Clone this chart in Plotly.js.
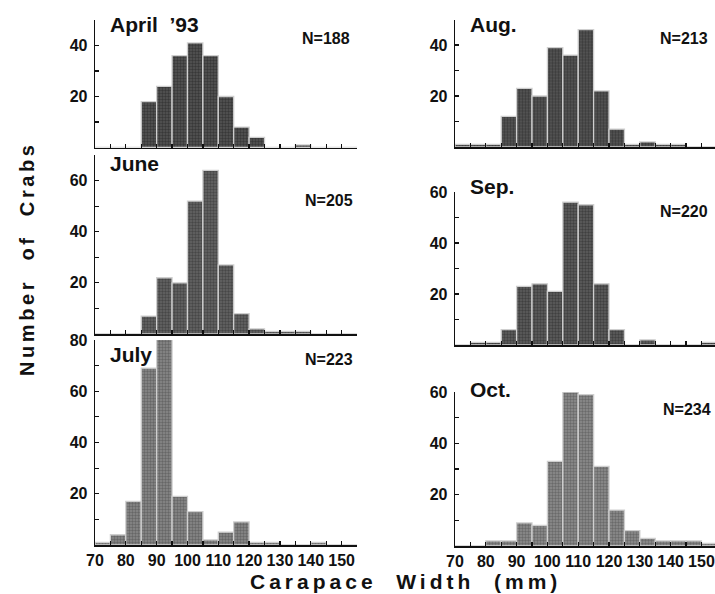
<!DOCTYPE html>
<html>
<head>
<meta charset="utf-8">
<script src="https://cdn.plot.ly/plotly-3.0.1.min.js"></script>
<style>html,body{margin:0;padding:0;background:#fff;overflow:hidden}</style>
</head>
<body>
<div id="chart" style="width:715px;height:594px"></div>
<script>
// Bin left edges (mm), 5 mm bins
const binStarts = [70,75,80,85,90,95,100,105,110,115,120,125,130,135,140,145,150];

// Counts per month
const april = [0,0,0,18,24,36,41,36,20,8,4,0,0,1,0,0,0];
const june  = [0,0,0,7,22,20,52,64,27,8,2,1,1,1,0,0,0];
const july  = [1,4,17,69,81,19,13,2,5,9,1,1,0,0,1,0,0];
const aug   = [1,1,1,12,23,20,39,36,46,22,7,1,2,1,1,0,0];
const sep   = [0,1,1,6,23,24,21,56,55,24,6,0,2,0,0,0,1];
const oct   = [0,0,2,2,9,8,33,60,59,31,14,6,3,2,2,2,1];

const panelTitles = ["April  \u201993", "June", "July", "Aug.", "Sep.", "Oct."];
const sampleSizes = ["N=188", "N=205", "N=223", "N=213", "N=220", "N=234"];
const xTickVals = [70,75,80,85,90,95,100,105,110,115,120,125,130,135,140,145,150,155];
const xTickText = ["70","","80","","90","","100","","110","","120","","130","","140","","150",""];

const series = [april, june, july, aug, sep, oct];
const fills = ["#555555", "#666666", "#8a8a8a", "#585858", "#5e5e5e", "#8e8e8e"];
const darks = ["#383838", "#474747", "#666666", "#3a3a3a", "#404040", "#6a6a6a"];
const yMax = [50, 70, 80, 50, 60, 60];

const W = 715, H = 594;
const xDom = [[95/W, 357/W], [455/W, 1]];
const xRange = [[70,155],[70,154.4]];
// [bottom px, top px]
const yPx = [[147.5,20],[334,155],[545,340],[147,19.5],[345,192],[546,392]];

const tickFont = {family: "Liberation Sans, Arial, sans-serif", size: 16, color: "#111", weight: "bold"};

const traces = [];
const layout = {
  width: W, height: H,
  margin: {l:0, r:0, t:0, b:0},
  paper_bgcolor: "#fff", plot_bgcolor: "rgba(0,0,0,0)",
  showlegend: false,
  bargap: 0,
  annotations: [],
  font: {family: "Liberation Sans, Arial, sans-serif", color: "#111"}
};

for (let i = 0; i < 6; i++) {
  const col = i < 3 ? 0 : 1;
  const bottomRow = (i === 2 || i === 5);
  const n = i + 1;
  const xa = n === 1 ? "xaxis" : "xaxis" + n;
  const ya = n === 1 ? "yaxis" : "yaxis" + n;
  traces.push({
    type: "bar",
    x: binStarts,
    y: series[i],
    width: 5,
    offset: 0,
    xaxis: "x" + (n === 1 ? "" : n),
    yaxis: "y" + (n === 1 ? "" : n),
    marker: {
      color: fills[i],
      line: {color: "#cfcfcf", width: 1.3},
      pattern: {shape: ".", fgcolor: darks[i], bgcolor: fills[i], size: 3, solidity: 0.5, fillmode: "replace"}
    },
    hoverinfo: "x+y"
  });
  const yb = yPx[i][0], yt = yPx[i][1];
  const yTickVals = [], yTickText = [];
  for (let v = 10; v <= yMax[i]; v += 10) { yTickVals.push(v); yTickText.push(v % 20 === 0 ? String(v) : ""); }
  layout[xa] = {
    domain: xDom[col], range: xRange[col], anchor: "y" + (n === 1 ? "" : n),
    showline: true, linecolor: "#111", linewidth: 1.6, mirror: false,
    ticks: "inside", ticklen: 4, tickwidth: 1.3, tickcolor: "#111",
    tickmode: "array", tickvals: xTickVals, ticktext: xTickText,
    showticklabels: bottomRow, tickfont: tickFont,
    showgrid: false, zeroline: false, fixedrange: true
  };
  layout[ya] = {
    domain: [(H - yb)/H, (H - yt)/H], range: [0, yMax[i]], anchor: "x" + (n === 1 ? "" : n),
    showline: true, linecolor: "#111", linewidth: 1.3,
    ticks: "inside", ticklen: 4, tickwidth: 1.1, tickcolor: "#111",
    tickmode: "array", tickvals: yTickVals, ticktext: yTickText,
    tickfont: tickFont, ticklabelstandoff: 3,
    showgrid: false, zeroline: false, fixedrange: true
  };
}

// panel titles
const titlePos = [[108,24],[108,164],[108,354],[468,24],[468,187],[468,389]];
const nPos = [[352,39],[355,201],[355,359],[710,39],[710,211],[713,409]];
for (let i = 0; i < 6; i++) {
  layout.annotations.push({
    xref: "paper", yref: "paper", x: titlePos[i][0]/W, y: (H - titlePos[i][1])/H,
    xanchor: "left", yanchor: "middle", showarrow: false,
    text: panelTitles[i],
    font: {family: "Liberation Sans, Arial, sans-serif", size: 21, color: "#111", weight: "bold"}
  });
  layout.annotations.push({
    xref: "paper", yref: "paper", x: nPos[i][0]/W, y: (H - nPos[i][1])/H,
    xanchor: "right", yanchor: "middle", showarrow: false,
    text: sampleSizes[i],
    font: {family: "Liberation Sans, Arial, sans-serif", size: 16, color: "#111", weight: "bold"}
  });
}
// axis titles
layout.annotations.push({
  xref: "paper", yref: "paper", x: 405/W, y: (H - 581)/H,
  xanchor: "center", yanchor: "middle", showarrow: false,
  text: '<span style="letter-spacing:4px">Carapace  Width  (mm)</span>',
  font: {family: "Liberation Sans, Arial, sans-serif", size: 21, color: "#111", weight: "bold"}
});
layout.annotations.push({
  xref: "paper", yref: "paper", x: 27/W, y: (H - 259)/H,
  xanchor: "center", yanchor: "middle", showarrow: false, textangle: -90,
  text: '<span style="letter-spacing:3.6px">Number  of  Crabs</span>',
  font: {family: "Liberation Sans, Arial, sans-serif", size: 20, color: "#111", weight: "bold"}
});

Plotly.newPlot("chart", traces, layout, {staticPlot: true, displayModeBar: false});
</script>
</body>
</html>
